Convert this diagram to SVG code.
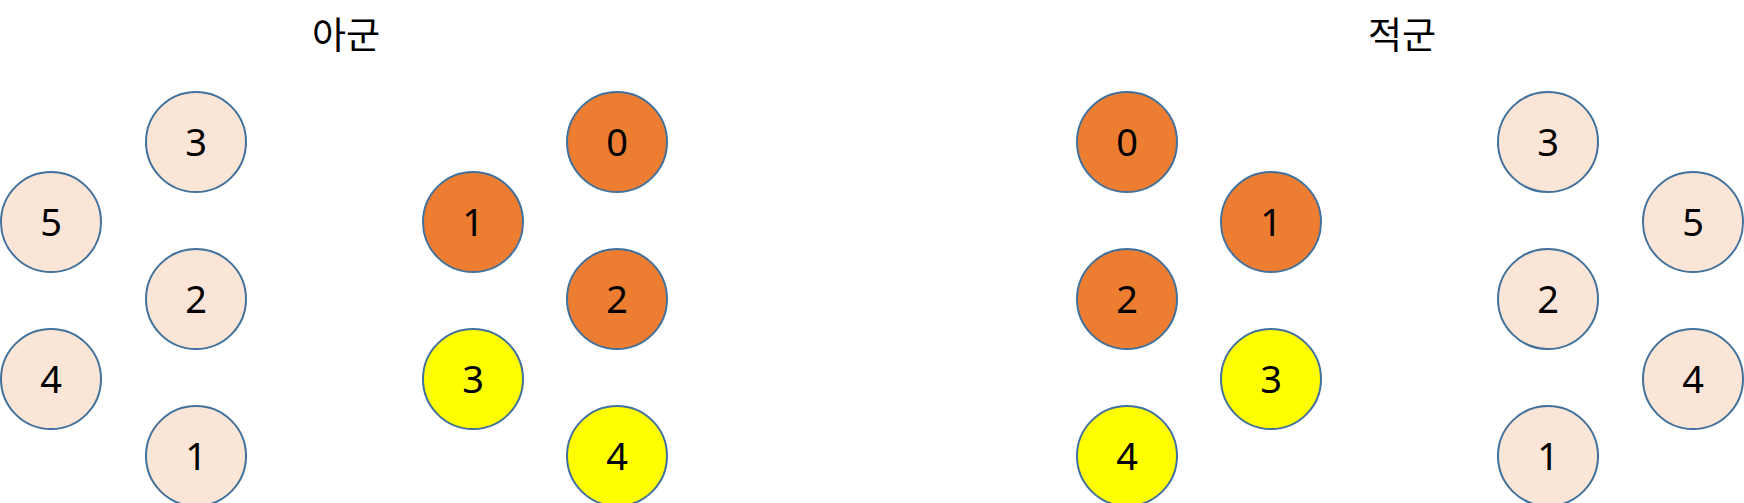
<svg xmlns="http://www.w3.org/2000/svg" width="1744" height="503" viewBox="0 0 1744 503">
<style>
circle{stroke:#41719C;stroke-width:2}
.p{fill:#FBE5D6}.o{fill:#ED7D31}.y{fill:#FFFF00}
text{font-family:"Noto Sans","Noto Sans CJK KR",sans-serif;fill:#000;text-anchor:middle}
.n{font-size:38px}
.t{font-size:37px;font-family:"Noto Sans CJK KR","Noto Sans",sans-serif}
</style>
<rect width="1744" height="503" fill="#fff"/>
<text class="t" x="346" y="49">아군</text>
<text class="t" x="1402" y="49">적군</text>
<g id="a3"><circle class="p" cx="196" cy="142" r="50"/><text class="n" x="196" y="156">3</text></g>
<g id="a5"><circle class="p" cx="51" cy="222" r="50"/><text class="n" x="51" y="236">5</text></g>
<g id="a2"><circle class="p" cx="196" cy="299" r="50"/><text class="n" x="196" y="313">2</text></g>
<g id="a4"><circle class="p" cx="51" cy="379" r="50"/><text class="n" x="51" y="393">4</text></g>
<g id="a1"><circle class="p" cx="196" cy="456" r="50"/><text class="n" x="196" y="470">1</text></g>
<g id="b0"><circle class="o" cx="617" cy="142" r="50"/><text class="n" x="617" y="156">0</text></g>
<g id="b1"><circle class="o" cx="473" cy="222" r="50"/><text class="n" x="473" y="236">1</text></g>
<g id="b2"><circle class="o" cx="617" cy="299" r="50"/><text class="n" x="617" y="313">2</text></g>
<g id="b3"><circle class="y" cx="473" cy="379" r="50"/><text class="n" x="473" y="393">3</text></g>
<g id="b4"><circle class="y" cx="617" cy="456" r="50"/><text class="n" x="617" y="470">4</text></g>
<g id="c0"><circle class="o" cx="1127" cy="142" r="50"/><text class="n" x="1127" y="156">0</text></g>
<g id="c1"><circle class="o" cx="1271" cy="222" r="50"/><text class="n" x="1271" y="236">1</text></g>
<g id="c2"><circle class="o" cx="1127" cy="299" r="50"/><text class="n" x="1127" y="313">2</text></g>
<g id="c3"><circle class="y" cx="1271" cy="379" r="50"/><text class="n" x="1271" y="393">3</text></g>
<g id="c4"><circle class="y" cx="1127" cy="456" r="50"/><text class="n" x="1127" y="470">4</text></g>
<g id="d3"><circle class="p" cx="1548" cy="142" r="50"/><text class="n" x="1548" y="156">3</text></g>
<g id="d5"><circle class="p" cx="1693" cy="222" r="50"/><text class="n" x="1693" y="236">5</text></g>
<g id="d2"><circle class="p" cx="1548" cy="299" r="50"/><text class="n" x="1548" y="313">2</text></g>
<g id="d4"><circle class="p" cx="1693" cy="379" r="50"/><text class="n" x="1693" y="393">4</text></g>
<g id="d1"><circle class="p" cx="1548" cy="456" r="50"/><text class="n" x="1548" y="470">1</text></g>
<g id="connectors"></g>
</svg>
